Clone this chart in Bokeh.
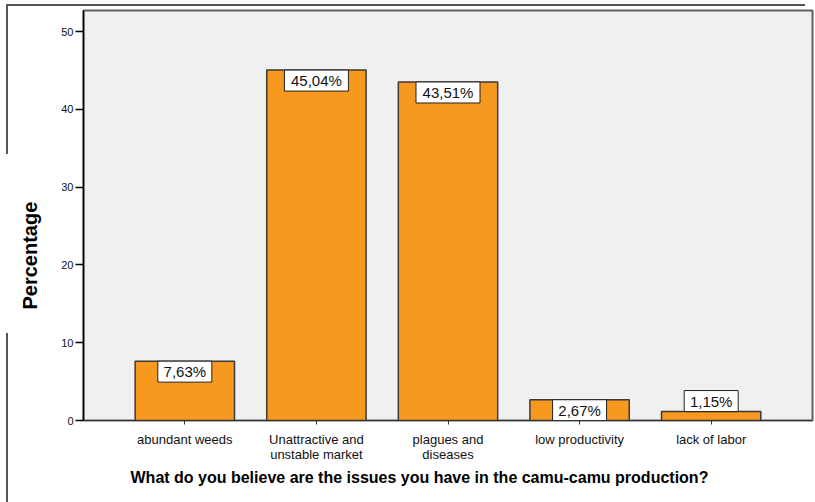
from bokeh.plotting import figure
from bokeh.models import Range1d, FixedTicker, ColumnDataSource, Title
from bokeh.core.properties import value
from bokeh.embed import file_html
from bokeh.resources import INLINE

# ---- data ----
categories = ["abundant weeds", "Unattractive and\nunstable market", "plagues and\ndiseases",
              "low productivity", "lack of labor"]
percentages = [7.63, 45.04, 43.51, 2.67, 1.15]
value_labels = ["7,63%", "45,04%", "43,51%", "2,67%", "1,15%"]
y_ticks = [0, 10, 20, 30, 40, 50]
x_title = "What do you believe are the issues you have in the camu-camu production?"
y_title = "Percentage"

# ---- layout constants ----
FIG_W, FIG_H = 815, 502
B_LEFT, B_RIGHT, B_TOP, B_BOTTOM = 83, 3, 10, 82
FRAME_H = FIG_H - B_TOP - B_BOTTOM
Y_MAX = 52.7
PX_PER_UNIT = FRAME_H / Y_MAX
BOX_H = 21

xs = list(range(len(categories)))
box_y = []
for v in percentages:
    if v * PX_PER_UNIT >= BOX_H - 1:
        box_y.append(v - BOX_H / 2 / PX_PER_UNIT)
    else:
        box_y.append(v + BOX_H / 2 / PX_PER_UNIT)
box_w = [10 * len(s) + 4 for s in value_labels]

src = ColumnDataSource(dict(x=xs, top=percentages, by=box_y, bw=box_w, lab=value_labels))

p = figure(width=FIG_W, height=FIG_H, output_backend="svg", toolbar_location=None,
           x_range=Range1d(-0.77, 4.77), y_range=Range1d(0, Y_MAX),
           min_border_left=B_LEFT, min_border_right=B_RIGHT,
           min_border_top=B_TOP, min_border_bottom=B_BOTTOM)
p.styles = {
    "background-image": "linear-gradient(#555,#555), linear-gradient(#555,#555), linear-gradient(#555,#555)",
    "background-size": "799px 2px, 2px 150px, 2px 170px",
    "background-position": "6px 4px, 6px 4px, 6px 333px",
    "background-repeat": "no-repeat",
}

p.background_fill_color = "#F0F0F0"
p.border_fill_alpha = 0
p.outline_line_color = "#606060"
p.outline_line_width = 2
p.xgrid.visible = False
p.ygrid.visible = False

p.vbar(x="x", top="top", bottom=0, width=0.755, source=src,
       fill_color="#F7991E", line_color="#3A3A3A", line_width=1.5)

p.rect(x="x", y="by", width="bw", height=BOX_H, width_units="screen", height_units="screen",
       source=src, fill_color="white", line_color="#222222", line_width=1)
p.text(x="x", y="by", text="lab", source=src, text_align="center", text_baseline="middle",
       text_font=value("Liberation Sans"), text_font_size="15px", text_color="#111111")

# x axis
xa = p.xaxis[0]
xa.ticker = FixedTicker(ticks=xs)
xa.major_label_overrides = {i: c for i, c in zip(xs, categories)}
xa.major_tick_out = 4
xa.major_tick_in = 0
xa.minor_tick_line_color = None
xa.axis_line_color = "#333333"
xa.major_tick_line_color = "#333333"
xa.major_label_standoff = 7
xa.major_label_text_font = "Liberation Sans"
xa.major_label_text_font_size = "13px"
xa.major_label_text_color = "#111111"
xa.major_label_text_line_height = 1.0

# y axis
ya = p.yaxis[0]
ya.ticker = FixedTicker(ticks=y_ticks)
ya.major_tick_out = 8
ya.major_tick_in = 0
ya.minor_tick_line_color = None
ya.axis_line_color = "black"
ya.axis_line_width = 1.5
ya.major_tick_line_color = "black"
ya.major_tick_line_width = 1.5
ya.major_label_standoff = 2
ya.major_label_text_font = "Liberation Sans"
ya.major_label_text_font_size = "11px"
ya.major_label_text_color = "#111111"

# axis titles (placed off-centre like the original)
p.add_layout(Title(text=y_title, align="left", offset=111, standoff=32, vertical_align="top",
                   text_font="Liberation Sans", text_font_style="bold",
                   text_font_size="20px", text_color="black"), "left")
p.add_layout(Title(text=x_title, align="left", offset=47, standoff=4,
                   text_font="Liberation Sans", text_font_style="bold",
                   text_font_size="16px", text_color="black"), "below")

open("out.html", "w").write(file_html(p, INLINE))
